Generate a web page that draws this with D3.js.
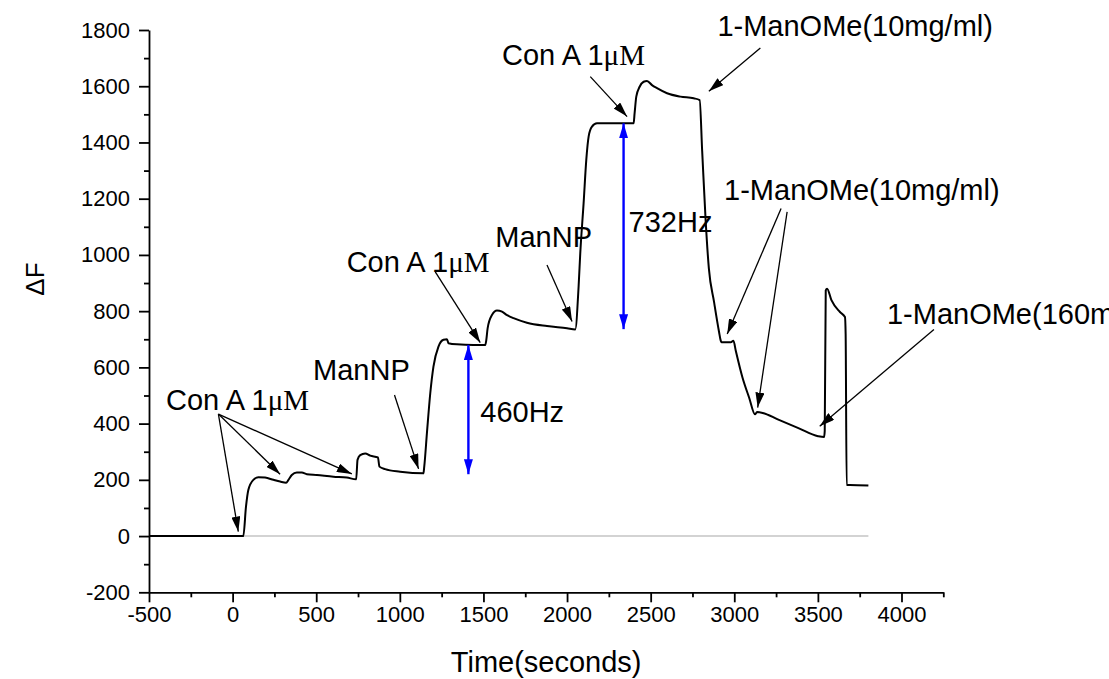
<!DOCTYPE html>
<html>
<head>
<meta charset="utf-8">
<script src="https://cdn.jsdelivr.net/npm/d3@7/dist/d3.min.js"></script>
<style>
  body { margin: 0; background: #fff; }
  svg { display: block; }
</style>
</head>
<body>
<svg id="chart" width="1109" height="679"></svg>
<script>
// Frequency shift trace (ΔF, Hz) against time (s)
const timeSec = [-500, 64, 80, 94, 124, 154, 194, 244, 284, 320, 334, 354, 384, 414, 444, 504, 603, 683, 739,
  747, 763, 793, 823, 869, 878, 912, 1002, 1141, 1146, 1162, 1182, 1201, 1231, 1261, 1282, 1291, 1341, 1441,
  1511, 1517, 1525, 1551, 1581, 1611, 1641, 1680, 1760, 1880, 2000, 2049, 2069, 2079, 2099, 2115, 2129, 2149,
  2179, 2279, 2398, 2404, 2414, 2434, 2458, 2478, 2508, 2538, 2598, 2678, 2757, 2793, 2808, 2828, 2848, 2879,
  2909, 2919, 2923, 2929, 2979, 2995, 3009, 3049, 3089, 3124, 3136, 3170, 3260, 3380, 3501, 3537, 3541, 3547,
  3555, 3581, 3632, 3662, 3666, 3672, 3691, 3802];
const deltaF = [0, 0, 105, 164, 200, 209, 208, 200, 194, 190, 200, 217, 226, 226, 220, 217, 211, 208, 202,
  271, 288, 294, 286, 280, 247, 238, 229, 223, 247, 366, 508, 603, 674, 698, 700, 686, 682, 680,
  680, 697, 739, 786, 802, 798, 786, 775, 759, 747, 739, 735, 887, 1006, 1184, 1338, 1421, 1456,
  1468, 1468, 1468, 1504, 1563, 1598, 1616, 1619, 1604, 1593, 1575, 1563, 1557, 1551, 1370, 1131, 952, 833,
  726, 695, 690, 689, 689, 695, 659, 564, 492, 433, 441, 438, 415, 385, 355, 352, 374, 874,
  880, 839, 797, 779, 719, 182, 182, 180];

const xTicks = [-500, 0, 500, 1000, 1500, 2000, 2500, 3000, 3500, 4000];
const xMinorTicks = [-250, 250, 750, 1250, 1750, 2250, 2750, 3250, 3750, 4250];
const yTicks = [-200, 0, 200, 400, 600, 800, 1000, 1200, 1400, 1600, 1800];
const yMinorTicks = [-100, 100, 300, 500, 700, 900, 1100, 1300, 1500, 1700];

// Injection annotations: label text, label anchor (time, ΔF), arrows [from, to] in (time, ΔF)
const noteText = ["Con A 1", "ManNP", "Con A 1", "ManNP", "Con A 1",
  "1-ManOMe(10mg/ml)", "1-ManOMe(10mg/ml)", "1-ManOMe(160mg/ml)"];
const noteUnit = ["μM", "", "μM", "", "μM", "", "", ""];
const noteAnchor = [[-398, 448], [481, 556], [682, 941], [1571, 1029], [1611, 1676],
  [2899, 1777], [2939, 1197], [3913, 755]];
const noteArrows = [
  [[[-85, 434], [34, 16]], [[-85, 434], [284, 220]], [[-85, 434], [713, 221]]],
  [[[968, 502], [1112, 239]]],
  [[[1212, 940], [1481, 688]]],
  [[[1880, 964], [2030, 763]]],
  [[[2139, 1634], [2359, 1492]]],
  [[[3156, 1736], [2848, 1582]]],
  [[[3280, 1165], [2958, 719]], [[3316, 1153], [3140, 457]]],
  [[[4194, 735], [3511, 391]]]
];

// Binding steps marked with double-headed arrows
const stepTime = [1410, 2338];
const stepLow = [220, 736];
const stepSize = [460, 732];
const stepLabelAt = [[1481, 406], [2368, 1083]];

const svg = d3.select("#chart");
const x = d3.scaleLinear().domain([-500, 4250]).range([149, 943.3]);
const y = d3.scaleLinear().domain([-200, 1800]).range([592.3, 30]);

const sans = "'Liberation Sans', Arial, sans-serif";
const serif = "'Liberation Serif', 'Times New Roman', serif";

// Arrowhead markers
const defs = svg.append("defs");
function marker(id, color, len, half) {
  defs.append("marker")
    .attr("id", id)
    .attr("markerUnits", "userSpaceOnUse")
    .attr("viewBox", `0 ${-half} ${len} ${half * 2}`)
    .attr("refX", len).attr("refY", 0)
    .attr("markerWidth", len).attr("markerHeight", half * 2)
    .attr("orient", "auto-start-reverse")
    .append("path")
    .attr("d", `M0,${-half}L${len},0L0,${half}Z`)
    .attr("fill", color);
}
marker("headBlack", "#000", 15, 4.5);
marker("headBlue", "#0000ff", 15, 4.5);

// Zero reference line
svg.append("line")
  .attr("x1", x(-500)).attr("x2", x(3802))
  .attr("y1", y(0)).attr("y2", y(0))
  .attr("stroke", "#c4c4c4").attr("stroke-width", 1.6);

// Axes
const plain = d => String(d);
svg.append("g").attr("transform", `translate(0,${y(-200)})`)
  .call(d3.axisBottom(x).tickValues(xTicks).tickSize(10).tickSizeOuter(0).tickPadding(4)
    .tickFormat(plain));
svg.append("g").attr("transform", `translate(0,${y(-200)})`)
  .call(d3.axisBottom(x).tickValues(xMinorTicks).tickSize(5).tickFormat(""))
  .call(g => g.select(".domain").remove());

svg.append("g").attr("transform", `translate(${x(-500)},0)`)
  .call(d3.axisLeft(y).tickValues(yTicks).tickSize(10).tickSizeOuter(0).tickPadding(9)
    .tickFormat(plain));
svg.append("g").attr("transform", `translate(${x(-500)},0)`)
  .call(d3.axisLeft(y).tickValues(yMinorTicks).tickSize(5).tickFormat(""))
  .call(g => g.select(".domain").remove());

svg.selectAll(".domain, .tick line").attr("stroke", "#000").attr("stroke-width", 1.8);
svg.selectAll(".tick text").attr("font-family", sans).attr("font-size", 22).attr("fill", "#000");

// Axis titles
svg.append("text")
  .attr("x", (x(-500) + x(4250)) / 2).attr("y", 672)
  .attr("text-anchor", "middle")
  .attr("font-family", sans).attr("font-size", 29)
  .text("Time(seconds)");
svg.append("text")
  .attr("transform", "translate(44,279) rotate(-90)")
  .attr("text-anchor", "middle")
  .attr("font-family", sans).attr("font-size", 26)
  .text("ΔF");

// Trace
const pts = timeSec.map((t, i) => [t, deltaF[i]]);
svg.append("path")
  .datum(pts)
  .attr("fill", "none")
  .attr("stroke", "#000")
  .attr("stroke-width", 2)
  .attr("stroke-linejoin", "round")
  .attr("d", d3.line().x(d => x(d[0])).y(d => y(d[1])).curve(d3.curveMonotoneX));

// Step arrows
stepTime.forEach((t, i) => {
  svg.append("line")
    .attr("x1", x(t)).attr("x2", x(t))
    .attr("y1", y(stepLow[i])).attr("y2", y(stepLow[i] + stepSize[i]))
    .attr("stroke", "#0000ff").attr("stroke-width", 2.4)
    .attr("marker-start", "url(#headBlue)")
    .attr("marker-end", "url(#headBlue)");
  svg.append("text")
    .attr("x", x(stepLabelAt[i][0])).attr("y", y(stepLabelAt[i][1]))
    .attr("font-family", sans).attr("font-size", 29)
    .text(stepSize[i] + "Hz");
});

// Injection annotations
noteText.forEach((txt, i) => {
  const t = svg.append("text")
    .attr("x", x(noteAnchor[i][0])).attr("y", y(noteAnchor[i][1]))
    .attr("font-family", sans).attr("font-size", 29);
  t.append("tspan").text(txt);
  if (noteUnit[i]) t.append("tspan").attr("font-family", serif).text(noteUnit[i]);
  noteArrows[i].forEach(([from, to]) => {
    svg.append("line")
      .attr("x1", x(from[0])).attr("y1", y(from[1]))
      .attr("x2", x(to[0])).attr("y2", y(to[1]))
      .attr("stroke", "#000").attr("stroke-width", 1.3)
      .attr("marker-end", "url(#headBlack)");
  });
});
</script>
</body>
</html>
